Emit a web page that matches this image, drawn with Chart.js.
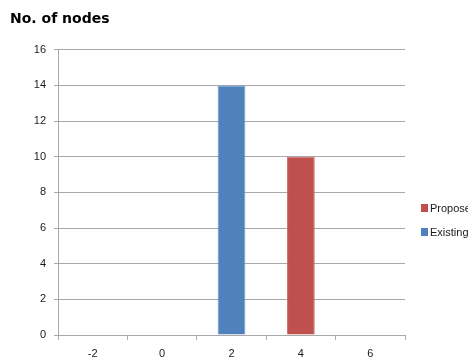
<!DOCTYPE html>
<html>
<head>
<meta charset="utf-8">
<script src="https://cdn.jsdelivr.net/npm/chart.js@4/dist/chart.umd.min.js"></script>
<style>
  html, body { margin: 0; padding: 0; background: #fff; overflow: hidden; }
  #wrap { width: 468px; height: 364px; position: relative; }
</style>
</head>
<body>
<div id="wrap"><canvas id="c" width="468" height="364"></canvas></div>
<script>
// Category labels along the x axis
const categories = ['-2', '0', '2', '4', '6'];
// Node counts per series (null = no bar in that category)
const existingValues = [null, null, 14, null, null];
const proposedValues = [null, null, null, 10, null];
// Y axis range
const yMin = 0, yMax = 16, yStep = 2;

const BLUE = '#4f81bd';
const RED = '#c0504d';
const GRID = '#a9a9a9';
const TEXT = '#1a1a1a';
const FONT = "'Liberation Sans', Arial, sans-serif";

// Legend drawn at the right, listing series in reverse order
const sideLegend = {
  id: 'sideLegend',
  afterDraw(chart) {
    const ctx = chart.ctx;
    const ds = chart.data.datasets.slice().reverse();
    const x = 421, y0 = 208, gap = 24;
    ctx.save();
    ctx.font = '11px ' + FONT;
    ctx.textBaseline = 'middle';
    ds.forEach((d, i) => {
      const y = y0 + i * gap;
      ctx.fillStyle = d.backgroundColor;
      ctx.fillRect(x, y - 4, 7, 8);
      ctx.fillStyle = TEXT;
      ctx.fillText(d.label, x + 9, y + 0.5);
    });
    ctx.restore();
  }
};

new Chart(document.getElementById('c'), {
  type: 'bar',
  data: {
    labels: categories,
    datasets: [
      { label: 'Existing', data: existingValues, backgroundColor: BLUE, borderColor: '#6f97c9', borderWidth: 1 },
      { label: 'Proposed', data: proposedValues, backgroundColor: RED, borderColor: '#cf7371', borderWidth: 1 }
    ]
  },
  options: {
    responsive: false,
    animation: false,
    skipNull: true,
    categoryPercentage: 0.8,
    barPercentage: 0.5,
    layout: { padding: { left: 10, right: 63, top: 0, bottom: 0 } },
    plugins: {
      legend: { display: false },
      tooltip: { enabled: false },
      title: {
        display: true,
        text: 'No. of nodes',
        align: 'start',
        color: '#000',
        font: { family: "'DejaVu Sans', Verdana, sans-serif", size: 14, weight: 'bold' },
        padding: { top: 11, bottom: 22 }
      }
    },
    scales: {
      x: {
        offset: true,
        grid: { display: true, drawOnChartArea: false, drawTicks: true, tickLength: 5, color: GRID, offset: true },
        border: { display: true, color: GRID },
        ticks: { color: TEXT, font: { family: FONT, size: 11 }, padding: 7, maxRotation: 0 },
        afterFit(s) { s.height = 29; }
      },
      y: {
        min: yMin, max: yMax,
        grid: { color: GRID, tickLength: 4 },
        border: { display: true, color: GRID },
        ticks: { stepSize: yStep, color: TEXT, font: { family: FONT, size: 11 }, padding: 8 },
        afterFit(s) { s.width = 48; }
      }
    }
  },
  plugins: [sideLegend]
});
</script>
</body>
</html>
